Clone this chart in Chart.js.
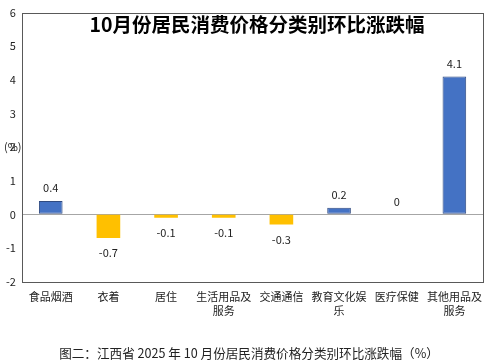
<!DOCTYPE html>
<html>
<head>
<meta charset="utf-8">
<script src="https://cdn.jsdelivr.net/npm/chart.js@4"></script>
<style>
  html, body { margin: 0; padding: 0; background: #fff; }
  #cpiChart { display: block; }
</style>
</head>
<body>
<canvas id="cpiChart" width="491" height="363"></canvas>
<script>
const categories = [
  "食品烟酒", "衣着", "居住", ["生活用品及", "服务"],
  "交通通信", ["教育文化娱", "乐"], "医疗保健", ["其他用品及", "服务"]
];
const changeValues = [0.4, -0.7, -0.1, -0.1, -0.3, 0.2, 0, 4.1];
const yTicks = [-2, -1, 0, 1, 2, 3, 4, 5, 6];

const chartTitle = "10月份居民消费价格分类别环比涨跌幅";
const captionText = "图二：江西省 2025 年 10 月份居民消费价格分类别环比涨跌幅（%）";
const unitLabel = "(%)";

const BLUE = "#4472C4";
const YELLOW = "#FFC000";
const FONT = "'Noto Sans CJK SC', 'DejaVu Sans', sans-serif";

// title inside the plot, frame box, unit label, value labels and caption
const extrasPlugin = {
  id: "extras",
  afterDraw(chart) {
    const { ctx, chartArea } = chart;
    ctx.save();

    ctx.strokeStyle = "#595959";
    ctx.lineWidth = 1;
    ctx.strokeRect(Math.round(chartArea.left) + 0.5, Math.round(chartArea.top) + 0.5,
      Math.round(chartArea.right - chartArea.left), Math.round(chartArea.bottom - chartArea.top));

    ctx.fillStyle = "#000";
    ctx.font = "bold 19.5px " + FONT;
    ctx.textAlign = "center";
    ctx.textBaseline = "middle";
    ctx.fillText(chartTitle, 257, chartArea.top + 12);

    const yScale = chart.scales.y;
    ctx.font = "11px " + FONT;
    ctx.fillStyle = "#222";
    ctx.textAlign = "left";
    ctx.fillText(unitLabel, 4, yScale.getPixelForValue(2));

    const meta = chart.getDatasetMeta(0);
    ctx.textAlign = "center";
    meta.data.forEach((bar, i) => {
      const v = changeValues[i];
      const y = v < 0 ? bar.y + 15 : bar.y - 13;
      ctx.fillText(String(v), bar.x, y);
    });

    ctx.font = "12.6px " + FONT;
    ctx.fillText(captionText, 249, 353);
    ctx.restore();
  }
};

new Chart(document.getElementById("cpiChart").getContext("2d"), {
  type: "bar",
  data: {
    labels: categories,
    datasets: [{
      data: changeValues,
      backgroundColor: changeValues.map(v => v < 0 ? YELLOW : BLUE),
      borderColor: changeValues.map(v => v < 0 ? YELLOW : "#2F4A80"),
      borderWidth: changeValues.map(v => v < 0 ? 0 : 1),
      borderSkipped: false,
      categoryPercentage: 1,
      barPercentage: 0.41
    }]
  },
  options: {
    responsive: false,
    animation: false,
    layout: { padding: { top: 0, right: 2, left: 0, bottom: 37 } },
    plugins: {
      legend: { display: false },
      tooltip: { enabled: false }
    },
    scales: {
      x: {
        grid: { display: false, drawTicks: false },
        border: { display: false },
        ticks: {
          color: "#222",
          font: { family: FONT, size: 11 },
          maxRotation: 0,
          autoSkip: false,
          padding: 9
        }
      },
      y: {
        min: -2,
        max: 6,
        afterBuildTicks(axis) { axis.ticks = yTicks.map(v => ({ value: v })); },
        grid: {
          drawTicks: false,
          color: ctx => ctx.tick && ctx.tick.value === 0 ? "#A6A6A6" : "rgba(0,0,0,0)"
        },
        border: { display: false },
        ticks: {
          color: "#222",
          font: { family: FONT, size: 11 },
          padding: 6
        }
      }
    }
  },
  plugins: [extrasPlugin]
});
</script>
</body>
</html>
